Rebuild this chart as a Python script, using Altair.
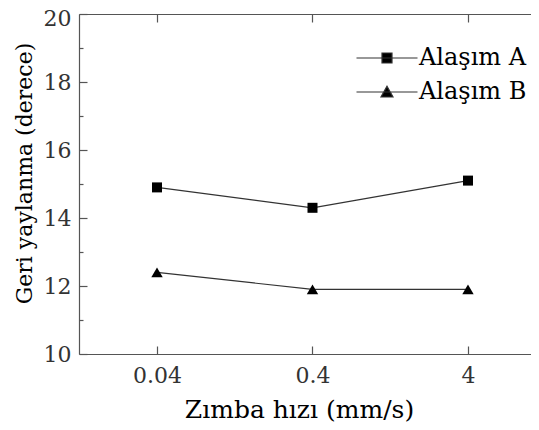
import altair as alt
import pandas as pd

speeds = [0.04, 0.4, 4]
alasim_a = [14.9, 14.3, 15.1]
alasim_b = [12.4, 11.9, 11.9]
series_names = ["Alaşım A", "Alaşım B"]
y_major = [10, 12, 14, 16, 18, 20]
y_minor = [11, 13, 15, 17, 19]

rows = []
for s, v in zip(speeds, alasim_a):
    rows.append({"speed": s, "value": v, "series": series_names[0]})
for s, v in zip(speeds, alasim_b):
    rows.append({"speed": s, "value": v, "series": series_names[1]})
df = pd.DataFrame(rows)

FONT = "DejaVu Serif"
AX = "#555555"

xscale = alt.Scale(type="log", domain=[0.0126, 10.17], nice=False)
yscale = alt.Scale(domain=[10, 20], nice=False, zero=False)

path_a = "M-6.1,0H6.1M-1,-1H1V1H-1Z"
path_b = "M-6.1,0H6.1M0,-1.15L1.2,1L-1.2,1Z"

legend = alt.Legend(
    title=None, orient="none", legendX=296, legendY=32,
    labelFont=FONT, labelFontSize=24, labelColor="black",
    labelOffset=20, symbolSize=100, rowPadding=10, padding=0,
    symbolStrokeWidth=1.2, symbolOpacity=1,
)

x_main = alt.Axis(orient="bottom", values=speeds, format="~g", ticks=False, domainColor=AX, domainWidth=1.2,
                  labelFont=FONT, labelFontSize=22, labelColor="#333", labelPadding=11,
                  title="Zımba hızı (mm/s)", titleFont=FONT, titleFontSize=25, titleFontWeight="normal",
                  titleColor="black", titleX=220, titleY=43)
y_main = alt.Axis(orient="left", values=y_major, ticks=False, domainColor=AX, domainWidth=1.2,
                  labelFont=FONT, labelFontSize=22, labelColor="#333", labelPadding=8,
                  labelOffset={"expr": "datum.value === 20 ? 4 : 0"},
                  title="Geri yaylanma (derece)", titleFont=FONT, titleFontSize=22, titleFontWeight="normal",
                  titleColor="black", titleAngle=270, titleX=-55, titleY=159, titleAlign="center", titleBaseline="middle")
x_bot_ticks = alt.Axis(orient="bottom", offset=-8, tickSize=8, domain=False, labels=False, values=speeds,
                       tickColor=AX, tickWidth=1.2, title=None)
y_maj_ticks = alt.Axis(orient="left", offset=-8, tickSize=8, domain=False, labels=False, values=y_major,
                       tickColor=AX, tickWidth=1.2, title=None)
x_top_dom = alt.Axis(orient="top", ticks=False, labels=False, domain=True, domainColor=AX, domainWidth=1.2,
                     values=speeds, title=None)
y_min_ticks = alt.Axis(orient="left", offset=-4, tickSize=4, domain=False, labels=False, values=y_minor,
                       tickColor=AX, tickWidth=1.2, title=None)
x_top_ticks = alt.Axis(orient="top", offset=-8, tickSize=8, domain=False, labels=False, values=speeds,
                       tickColor=AX, tickWidth=1.2, title=None)

base = alt.Chart(df)

line_a = base.transform_filter(alt.datum.series == series_names[0]).mark_line(color="#333333", strokeWidth=1.2).encode(
    x=alt.X("speed:Q", scale=xscale, axis=x_main),
    y=alt.Y("value:Q", scale=yscale, axis=y_main),
)
line_b = base.transform_filter(alt.datum.series == series_names[1]).mark_line(color="#333333", strokeWidth=1.2).encode(
    x=alt.X("speed:Q", scale=xscale, axis=x_bot_ticks),
    y=alt.Y("value:Q", scale=yscale, axis=y_maj_ticks),
)
pts_a = base.transform_filter(alt.datum.series == series_names[0]).mark_point(
    filled=True, color="black", opacity=1, size=100, shape="square").encode(
    x=alt.X("speed:Q", scale=xscale, axis=x_top_dom),
    y=alt.Y("value:Q", scale=yscale, axis=y_min_ticks),
)
pts_b = base.transform_filter(alt.datum.series == series_names[1]).mark_point(
    filled=True, color="black", opacity=1, size=130, shape="triangle-up").encode(
    x=alt.X("speed:Q", scale=xscale, axis=x_top_ticks),
    y=alt.Y("value:Q", scale=yscale, axis=None),
)
legend_layer = base.transform_filter("false").mark_point(
    filled=False, color="#333333", fill="black", strokeWidth=1.2, opacity=1).encode(
    shape=alt.Shape("series:N", scale=alt.Scale(domain=series_names, range=[path_a, path_b]), legend=legend),
)

chart = alt.layer(line_a, line_b, pts_a, pts_b, legend_layer).resolve_axis(x="independent", y="independent").properties(
    width=452, height=340,
    autosize=alt.AutoSizeParams(type="none"),
    padding={"left": 71, "top": 6, "right": 0, "bottom": 68},
).configure(font=FONT).configure_view(stroke="transparent").configure_axis(grid=False)

chart.save("out.html", embed_options={"renderer": "svg", "actions": False})
